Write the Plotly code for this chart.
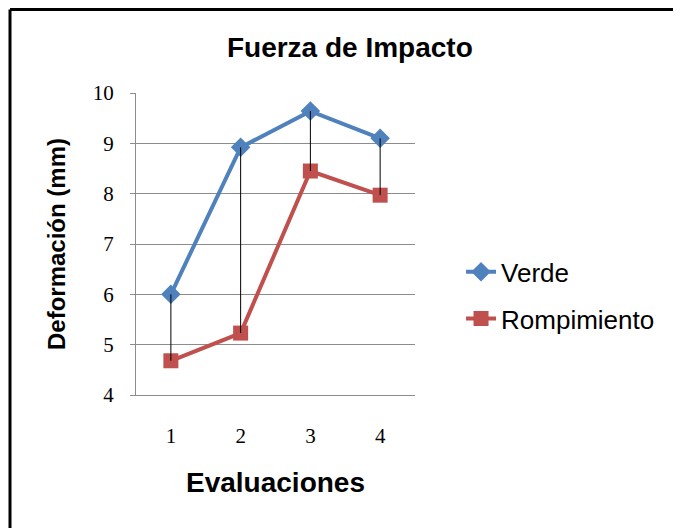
import plotly.graph_objects as go

# ── Data ──────────────────────────────────────────────────────────────────────
evaluaciones = [1, 2, 3, 4]
verde        = [6.0, 8.92, 9.64, 9.10]
rompimiento  = [4.68, 5.23, 8.45, 7.97]

C = {"verde": "#4F81BD", "romp": "#C0504D", "grid": "#8C8C8C"}
SANS  = "Liberation Sans, Arial"
SERIF = "Liberation Serif, Times New Roman, serif"

fig = go.Figure()

fig.add_trace(go.Scatter(
    x=evaluaciones, y=verde, name="Verde",
    mode="lines+markers",
    line=dict(color=C["verde"], width=4),
    marker=dict(symbol="diamond", size=15, color=C["verde"]),
    legendgroup="a",
))
fig.add_trace(go.Scatter(
    x=evaluaciones, y=rompimiento, name="Rompimiento",
    mode="lines+markers",
    line=dict(color=C["romp"], width=4),
    marker=dict(symbol="square", size=15, color=C["romp"]),
    legendgroup="b",
))

# high-low lines between the two series
hx, hy = [], []
for x, a, b in zip(evaluaciones, verde, rompimiento):
    hx += [x, x, None]
    hy += [a, b, None]
fig.add_trace(go.Scatter(
    x=hx, y=hy, mode="lines",
    line=dict(color="black", width=1),
    showlegend=False, hoverinfo="skip",
))

fig.update_layout(
    width=681, height=528,
    margin=dict(l=128, r=274, t=85, b=141),
    paper_bgcolor="white", plot_bgcolor="white",
    title=dict(text="<b>Fuerza de Impacto</b>", x=0.502, xref="container",
               xanchor="center", y=0.926, yanchor="middle",
               font=dict(family=SANS, size=28, color="black")),
    legend=dict(x=1.165, y=0.33, yanchor="middle", xanchor="left",
                font=dict(family=SANS, size=26, color="black"),
                tracegroupgap=10, bgcolor="rgba(0,0,0,0)"),
    showlegend=True,
    shapes=[
        dict(type="line", xref="paper", yref="paper",
             x0=-0.4516, x1=2.0, y0=1.2765, y1=1.2765,
             line=dict(color="black", width=3)),
        dict(type="line", xref="paper", yref="paper",
             x0=-0.4516, x1=-0.4516, y0=-1.0, y1=1.2765,
             line=dict(color="black", width=3)),
    ],
)

fig.update_xaxes(
    range=[0.5, 4.5], tickvals=evaluaciones,
    showgrid=False, zeroline=False,
    showline=True, linecolor=C["grid"], linewidth=1,
    ticks="", ticklabelstandoff=22,
    tickfont=dict(family=SERIF, size=21, color="black"),
    title=dict(text="<b>Evaluaciones</b>", standoff=25,
               font=dict(family=SANS, size=28, color="black")),
)
fig.update_yaxes(
    range=[4, 10], dtick=1,
    showgrid=True, gridcolor=C["grid"], gridwidth=1, zeroline=False,
    showline=True, linecolor=C["grid"], linewidth=1,
    ticks="outside", ticklen=5, tickcolor=C["grid"], ticklabelstandoff=12,
    tickfont=dict(family=SERIF, size=21, color="black"),
    title=dict(text="<b>Deformación (mm)</b>", standoff=20,
               font=dict(family=SANS, size=24, color="black")),
)

fig.write_html("out.html")
